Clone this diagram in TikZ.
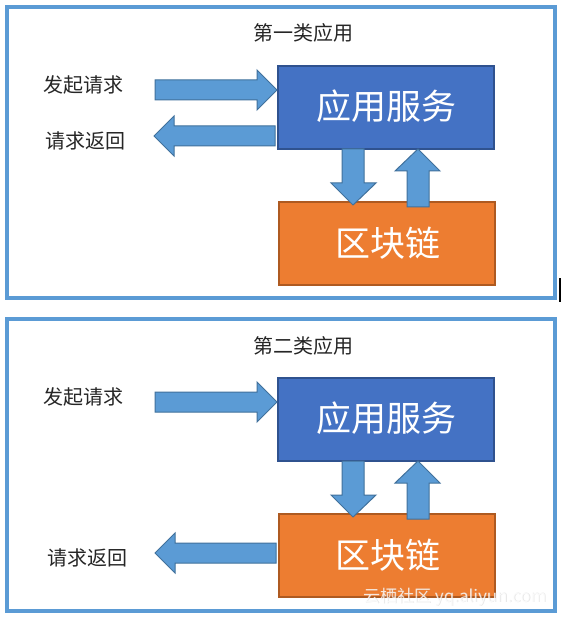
\documentclass[tikz,border=0pt]{standalone}
\usepackage{fontspec}
\newfontfamily\cjk{Noto Sans CJK SC}
\definecolor{framec}{HTML}{5B9BD5}
\definecolor{svcfill}{HTML}{4472C4}
\definecolor{svcdraw}{HTML}{2F528F}
\definecolor{bcfill}{HTML}{ED7D31}
\definecolor{bcdraw}{HTML}{AE5A21}
\definecolor{arrfill}{HTML}{5B9BD5}
\definecolor{arrdraw}{HTML}{41719C}
\tikzset{
  framebox/.style={draw=framec, line width=3.5pt},
  svcbox/.style={fill=svcfill, draw=svcdraw, line width=1.2pt},
  bcbox/.style={fill=bcfill, draw=bcdraw, line width=1.2pt},
  blockarrow/.style={fill=arrfill, draw=arrdraw, line width=1pt, line join=miter},
  boxtext/.style={text=white, font=\cjk\fontsize{35}{35}\selectfont},
  labeltext/.style={text=black!85, font=\cjk\fontsize{20}{20}\selectfont},
  titletext/.style={text=black!85, font=\cjk\fontsize{20}{20}\selectfont},
  wmtext/.style={font=\cjk\fontsize{17}{17}\selectfont, anchor=east},
}
\begin{document}
\begin{tikzpicture}[x=1pt,y=-1pt]
\useasboundingbox (0,0) rectangle (561,617);
\fill[white] (0,0) rectangle (561,617);

% ---------- first panel ----------
\draw[framebox] (7,7) rectangle (555,298);
\node[titletext] (t1) at (303,33) {第一类应用};
\draw[svcbox] (278,66) rectangle (494,149);
\node[boxtext] (s1) at (386,106) {应用服务};
\draw[bcbox] (279,202) rectangle (495,285);
\node[boxtext] (b1) at (388,243) {区块链};
\node[labeltext] (l1) at (83,85) {发起请求};
\node[labeltext] (r1) at (85,141) {请求返回};
% right arrow (request)
\draw[blockarrow] (155,80) -- (257,80) -- (257,70) -- (277,90) -- (257,110) -- (257,100) -- (155,100) -- cycle;
% left arrow (return)
\draw[blockarrow] (154,136) -- (174,116) -- (174,126) -- (275,126) -- (275,146) -- (174,146) -- (174,156) -- cycle;
% down arrow
\draw[blockarrow] (342,149) -- (364,149) -- (364,183) -- (376,183) -- (353,205) -- (331,183) -- (342,183) -- cycle;
% up arrow
\draw[blockarrow] (418,149) -- (440,171) -- (429,171) -- (429,207) -- (407,207) -- (407,171) -- (395,171) -- cycle;

% black cursor mark
\fill[black] (559,278) rectangle (561,302);

% ---------- second panel ----------
\draw[framebox] (7,319) rectangle (555,611);
\node[titletext] (t2) at (303,346) {第二类应用};
\draw[svcbox] (278,378) rectangle (494,461);
\node[boxtext] (s2) at (386,418) {应用服务};
\draw[bcbox] (279,514) rectangle (495,597);
\node[boxtext] (b2) at (388,555) {区块链};
\node[labeltext] (l2) at (83,397) {发起请求};
\node[labeltext] (r2) at (87,558) {请求返回};
% right arrow (request)
\draw[blockarrow] (155,392) -- (257,392) -- (257,382) -- (277,402) -- (257,422) -- (257,412) -- (155,412) -- cycle;
% left arrow (return from blockchain)
\draw[blockarrow] (155,553) -- (175,533) -- (175,543) -- (276,543) -- (276,563) -- (175,563) -- (175,573) -- cycle;
% down arrow
\draw[blockarrow] (342,461) -- (364,461) -- (364,495) -- (376,495) -- (353,517) -- (331,495) -- (342,495) -- cycle;
% up arrow
\draw[blockarrow] (418,461) -- (440,483) -- (429,483) -- (429,519) -- (407,519) -- (407,483) -- (395,483) -- cycle;

% watermark
\node[wmtext, text=gray!60, opacity=0.35] (wm2) at (550.7,597.7) {云栖社区 yq.aliyun.com};
\node[wmtext, text=white, opacity=0.8] (wm) at (550,597) {云栖社区 yq.aliyun.com};
\end{tikzpicture}
\end{document}
